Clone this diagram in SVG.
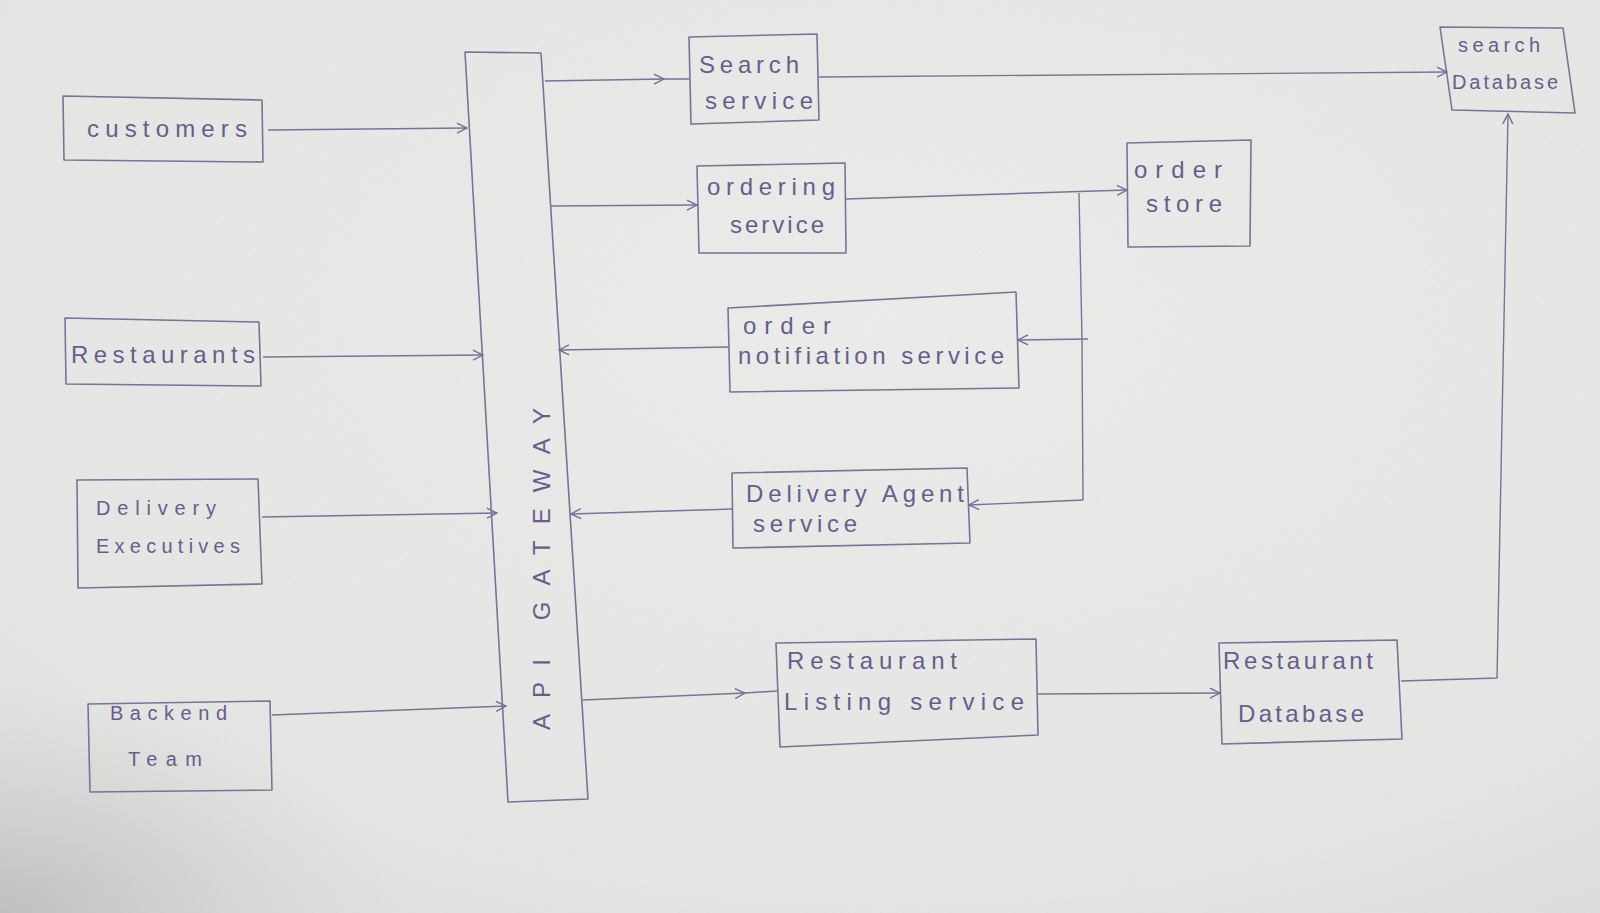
<svg xmlns="http://www.w3.org/2000/svg" width="1600" height="913" viewBox="0 0 1600 913">
<defs>
<radialGradient id="paper" cx="0.55" cy="0.35" r="0.9">
<stop offset="0" stop-color="#efefee"/>
<stop offset="0.7" stop-color="#e8e8e6"/>
<stop offset="1" stop-color="#d9d9d7"/>
</radialGradient>
<radialGradient id="shade" cx="0" cy="1" r="0.25">
<stop offset="0" stop-color="#b8b8b8" stop-opacity="0.8"/>
<stop offset="1" stop-color="#d0d0d0" stop-opacity="0"/>
</radialGradient>
<filter id="grain" x="0" y="0" width="100%" height="100%">
<feTurbulence type="fractalNoise" baseFrequency="0.9" numOctaves="2" seed="3" result="n"/>
<feColorMatrix type="matrix" values="0 0 0 0 0.5  0 0 0 0 0.5  0 0 0 0 0.5  0 0 0 0.18 0"/>
</filter>
<marker id="arr" viewBox="0 0 12 12" refX="11" refY="6" markerWidth="12" markerHeight="12" markerUnits="userSpaceOnUse" orient="auto">
<path d="M1,1 L11,6 L1,11" fill="none" stroke="#766d96" stroke-width="1.4"/>
</marker>
<marker id="arrm" viewBox="0 0 12 12" refX="11" refY="6" markerWidth="12" markerHeight="12" markerUnits="userSpaceOnUse" orient="auto">
<path d="M1,1 L11,6 L1,11" fill="none" stroke="#766d96" stroke-width="1.4"/>
</marker>
</defs>
<style>
.box{fill:none;stroke:#7a7298;stroke-width:1.6;stroke-linejoin:round}
.lbl{font-family:"Liberation Sans","DejaVu Sans",sans-serif;fill:#675d8c;font-size:24px}
.sm{font-size:20px}
.c{fill:none;stroke:#7a7298;stroke-width:1.4}
</style>
<rect width="1600" height="913" fill="url(#paper)"/>
<rect width="1600" height="913" filter="url(#grain)"/>
<rect width="1600" height="913" fill="url(#shade)"/>

<g id="customers">
<polygon class="box" points="63,96 262,100 263,162 64,160"/>
<text class="lbl" x="87" y="137" textLength="160" lengthAdjust="spacing">customers</text>
</g>
<g id="restaurants">
<polygon class="box" points="65,318 259,322 261,386 66,384"/>
<text class="lbl" x="71" y="363" font-size="26" textLength="184" lengthAdjust="spacing">Restaurants</text>
</g>
<g id="delivery-executives">
<polygon class="box" points="77,480 258,479 262,584 78,588"/>
<text class="lbl sm" x="96" y="515" textLength="120" lengthAdjust="spacing">Delivery</text>
<text class="lbl sm" x="96" y="553" textLength="144" lengthAdjust="spacing">Executives</text>
</g>
<g id="backend-team">
<polygon class="box" points="88,704 270,701 272,790 90,792"/>
<text class="lbl sm" x="110" y="720" textLength="117" lengthAdjust="spacing">Backend</text>
<text class="lbl sm" x="128" y="766" textLength="74" lengthAdjust="spacing">Team</text>
</g>
<g id="api-gateway">
<polygon class="box" points="465,52 541,53 588,799 508,802"/>
<text class="lbl" x="0" y="0" transform="translate(550,730) rotate(-90)" textLength="322" lengthAdjust="spacing">API GATEWAY</text>
</g>
<g id="search-service">
<polygon class="box" points="689,37 817,34 819,120 691,124"/>
<text class="lbl" x="699" y="73" textLength="100" lengthAdjust="spacing">Search</text>
<text class="lbl" x="705" y="109" textLength="108" lengthAdjust="spacing">service</text>
</g>
<g id="ordering-service">
<polygon class="box" points="697,166 845,163 846,253 699,253"/>
<text class="lbl" x="707" y="195" textLength="128" lengthAdjust="spacing">ordering</text>
<text class="lbl" x="730" y="233" textLength="94" lengthAdjust="spacing">service</text>
</g>
<g id="order-store">
<polygon class="box" points="1127,143 1251,140 1250,246 1128,247"/>
<text class="lbl" x="1134" y="178" textLength="88" lengthAdjust="spacing">order</text>
<text class="lbl" x="1146" y="212" textLength="76" lengthAdjust="spacing">store</text>
</g>
<g id="search-database">
<polygon class="box" points="1440,27 1563,28 1575,113 1452,110"/>
<text class="lbl sm" x="1458" y="52" textLength="82" lengthAdjust="spacing">search</text>
<text class="lbl sm" x="1452" y="89" textLength="106" lengthAdjust="spacing">Database</text>
</g>
<g id="order-notification-service">
<polygon class="box" points="728,308 1016,292 1019,388 730,392"/>
<text class="lbl" x="743" y="334" textLength="88" lengthAdjust="spacing">order</text>
<text class="lbl" x="738" y="364" textLength="266" lengthAdjust="spacing">notifiation service</text>
</g>
<g id="delivery-agent-service">
<polygon class="box" points="732,473 967,468 970,543 733,548"/>
<text class="lbl" x="746" y="502" textLength="218" lengthAdjust="spacing">Delivery Agent</text>
<text class="lbl" x="753" y="532" textLength="104" lengthAdjust="spacing">service</text>
</g>
<g id="restaurant-listing-service">
<polygon class="box" points="776,643 1036,639 1038,735 780,747"/>
<text class="lbl" x="787" y="669" textLength="170" lengthAdjust="spacing">Restaurant</text>
<text class="lbl" x="784" y="710" textLength="240" lengthAdjust="spacing">Listing service</text>
</g>
<g id="restaurant-database">
<polygon class="box" points="1219,643 1397,640 1402,739 1222,744"/>
<text class="lbl" x="1223" y="669" textLength="150" lengthAdjust="spacing">Restaurant</text>
<text class="lbl" x="1238" y="722" textLength="126" lengthAdjust="spacing">Database</text>
</g>

<g id="connectors">
<line class="c" x1="268" y1="130" x2="467" y2="128" marker-end="url(#arr)"/>
<line class="c" x1="263" y1="357" x2="483" y2="355" marker-end="url(#arr)"/>
<line class="c" x1="262" y1="517" x2="497" y2="513" marker-end="url(#arr)"/>
<line class="c" x1="272" y1="715" x2="506" y2="706" marker-end="url(#arr)"/>
<path class="c" d="M545,81 L664,79 L689,79" marker-mid="url(#arrm)"/>
<line class="c" x1="819" y1="77" x2="1447" y2="72" marker-end="url(#arr)"/>
<line class="c" x1="551" y1="206" x2="697" y2="205" marker-end="url(#arr)"/>
<line class="c" x1="846" y1="199" x2="1127" y2="190" marker-end="url(#arr)"/>
<polyline class="c" points="1079,193 1082,339 1083,500"/>
<line class="c" x1="1088" y1="339" x2="1018" y2="340" marker-end="url(#arr)"/>
<line class="c" x1="1083" y1="500" x2="969" y2="505" marker-end="url(#arr)"/>
<line class="c" x1="729" y1="347" x2="559" y2="350" marker-end="url(#arr)"/>
<line class="c" x1="733" y1="509" x2="571" y2="514" marker-end="url(#arr)"/>
<path class="c" d="M583,700 L745,693 L777,691" marker-mid="url(#arrm)"/>
<line class="c" x1="1037" y1="694" x2="1220" y2="693" marker-end="url(#arr)"/>
<polyline class="c" points="1401,681 1497,678 1508,114" marker-end="url(#arr)"/>
</g>
</svg>
